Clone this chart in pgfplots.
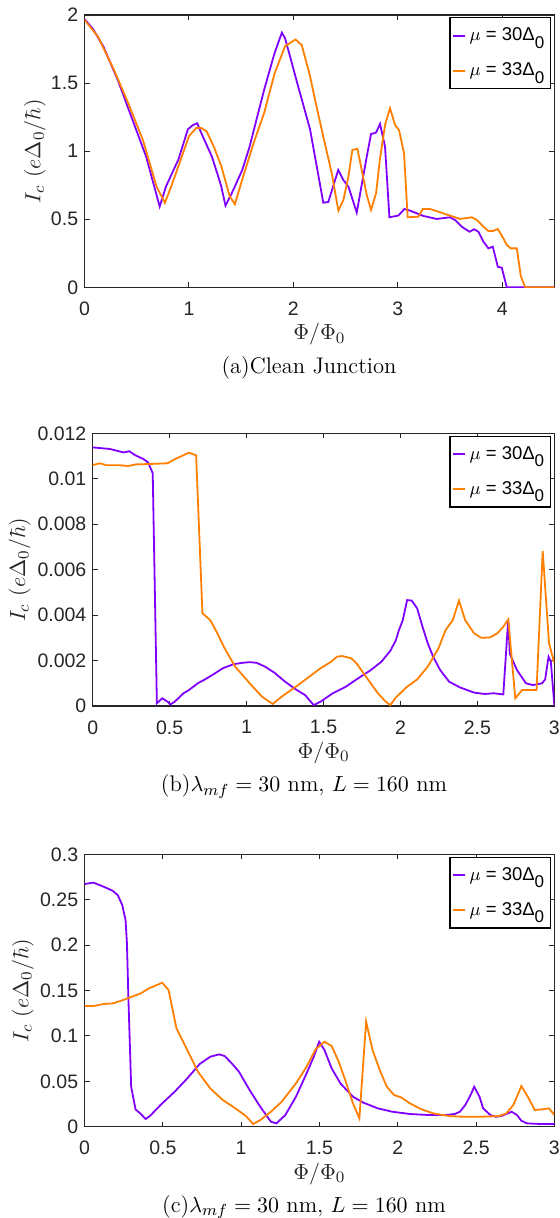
\documentclass[border=0pt]{standalone}
\usepackage{fontspec}
\usepackage{pgfplots}
\pgfplotsset{compat=1.18}
\newfontfamily\hel{Liberation Sans}
\definecolor{cpur}{RGB}{128,0,255}
\definecolor{corg}{RGB}{255,128,0}
\definecolor{axc}{RGB}{38,38,38}
\newcommand{\legfont}{\fontsize{9.25}{11}\hel}
\newcommand{\labfont}{\fontsize{11.3}{13.5}\selectfont}
\newcommand{\subz}{\raisebox{-0.8ex}{\fontsize{8.5}{9}\selectfont 0}}
\pgfplotsset{
  myax/.style={
    scale only axis, anchor=south west,
    axis line style={axc, line width=0.65pt},
    every tick/.style={axc, line width=0.5pt},
    major tick length=2.5pt,
    tick align=inside, tick pos=both,
    ticklabel style={font=\fontsize{9.75}{11}\hel, text=axc},
    xticklabel style={inner sep=0pt, anchor=north, yshift=-7pt},
    yticklabel style={inner sep=0pt, anchor=east, xshift=-3pt},
    scaled ticks=false,
    xlabel style={at={(axis description cs:0.5,0)}, anchor=north, inner sep=0pt, yshift=-17.85pt, font=\labfont, text=axc},
    xlabel={$\Phi/\Phi_0$},
    ylabel={$I_c\ (e\Delta_0/\hbar)$},
    legend style={at={(1,1)}, anchor=north east, xshift=-1.8pt, yshift=-1.15pt, draw=black, line width=0.6pt, fill=white, font=\legfont, inner xsep=1pt, inner ysep=3pt, row sep=5.5pt, cells={anchor=west}},
    legend image code/.code={\draw[##1, line width=0.8pt] (0pt,0pt) -- (6pt,0pt);},
    every axis plot/.append style={line width=0.9pt},
  }
}
\begin{document}
\begin{tikzpicture}
\useasboundingbox (0,0) rectangle (279.5pt,-609pt);
% ---------------- (a)
\begin{axis}[myax, at={(42.25pt,-143.65pt)}, width=234.95pt, height=136.15pt,
  xmin=0, xmax=4.5, ymin=0, ymax=2,
  xtick={0,1,2,3,4}, xticklabels={0,1,2,3,4},
  ytick={0,0.5,1,1.5,2}, yticklabels={0,0.5,1,1.5,2},
  ylabel style={at={(axis description cs:-0.1053,0.5)}, anchor=center, inner sep=0pt, font=\labfont, text=axc}]
\addplot[cpur] coordinates {(0,1.97) (0.079,1.90) (0.18,1.77) (0.32,1.52) (0.45,1.25) (0.59,0.96) (0.72,0.593) (0.78,0.74) (0.9,0.94) (0.99,1.16) (1.035,1.19) (1.08,1.205) (1.12,1.13) (1.22,0.96) (1.27,0.84) (1.31,0.74) (1.35,0.60) (1.41,0.69) (1.51,0.86) (1.58,1.03) (1.72,1.45) (1.82,1.72) (1.89,1.87) (1.92,1.83) (1.96,1.72) (2.03,1.52) (2.16,1.16) (2.287,0.621) (2.335,0.627) (2.43,0.862) (2.479,0.788) (2.527,0.739) (2.559,0.665) (2.607,0.548) (2.703,0.96) (2.744,1.126) (2.792,1.136) (2.83,1.2) (2.878,1.033) (2.92,0.514) (3.006,0.527) (3.063,0.575) (3.118,0.563) (3.245,0.524) (3.373,0.502) (3.5,0.514) (3.549,0.494) (3.613,0.445) (3.686,0.408) (3.731,0.426) (3.772,0.408) (3.82,0.335) (3.868,0.286) (3.91,0.298) (3.958,0.151) (3.996,0.144) (4.044,0) (4.5,0)};
\addlegendentry{$\mu$ = 30Δ\subz}
\addplot[corg] coordinates {(0,1.965) (0.13,1.84) (0.28,1.6) (0.42,1.35) (0.56,1.08) (0.69,0.74) (0.77,0.62) (0.83,0.74) (0.9,0.89) (1.0,1.11) (1.07,1.17) (1.12,1.17) (1.17,1.145) (1.24,1.03) (1.31,0.89) (1.39,0.67) (1.44,0.61) (1.51,0.79) (1.62,1.06) (1.72,1.28) (1.82,1.57) (1.92,1.77) (2.02,1.82) (2.08,1.78) (2.16,1.55) (2.208,1.376) (2.287,1.106) (2.368,0.837) (2.431,0.563) (2.479,0.641) (2.527,0.812) (2.565,1.008) (2.613,1.018) (2.655,0.862) (2.703,0.678) (2.744,0.568) (2.792,0.69) (2.83,0.947) (2.878,1.192) (2.926,1.315) (2.974,1.192) (3.012,1.155) (3.06,0.984) (3.095,0.514) (3.197,0.519) (3.24,0.575) (3.31,0.575) (3.437,0.543) (3.597,0.502) (3.709,0.514) (3.757,0.495) (3.82,0.445) (3.868,0.413) (3.91,0.413) (3.958,0.428) (4.002,0.372) (4.044,0.311) (4.082,0.286) (4.14,0.286) (4.178,0.083) (4.22,0) (4.5,0)};
\addlegendentry{$\mu$ = 33Δ\subz}
\end{axis}
\node[anchor=base, inner sep=0pt, font=\labfont] at (154.5pt,-186.65pt) {(a)Clean Junction};
% ---------------- (b)
\begin{axis}[myax, at={(46.35pt,-353pt)}, width=230.85pt, height=136.35pt,
  xmin=0, xmax=3, ymin=0, ymax=0.012,
  xtick={0,0.5,1,1.5,2,2.5,3}, xticklabels={0,0.5,1,1.5,2,2.5,3},
  ytick={0,0.002,0.004,0.006,0.008,0.01,0.012}, yticklabels={0,0.002,0.004,0.006,0.008,0.01,0.012},
  ylabel style={at={(axis description cs:-0.158,0.5)}, anchor=center, inner sep=0pt, font=\labfont, text=axc}]
\addplot[cpur] coordinates {(0,0.01138) (0.112,0.01131) (0.199,0.01116) (0.238,0.01121) (0.275,0.01104) (0.329,0.01087) (0.361,0.01071) (0.39,0.01024) (0.417,0.00012) (0.452,0.00034) (0.486,0.00019) (0.505,0.00007) (0.533,0.00019) (0.59,0.00056) (0.625,0.0007) (0.683,0.001) (0.73,0.00117) (0.788,0.00141) (0.845,0.00166) (0.915,0.00184) (0.973,0.0019) (1.02,0.00193) (1.066,0.0019) (1.12,0.00173) (1.18,0.00147) (1.25,0.00107) (1.32,0.00073) (1.38,0.00048) (1.436,0.00004) (1.48,0.00019) (1.56,0.00056) (1.645,0.00085) (1.714,0.00117) (1.807,0.00158) (1.876,0.00195) (1.934,0.00243) (1.969,0.00288) (1.99,0.00334) (2.015,0.00378) (2.043,0.00466) (2.073,0.00464) (2.108,0.0043) (2.143,0.00349) (2.177,0.00276) (2.212,0.00217) (2.258,0.00158) (2.316,0.00107) (2.386,0.00082) (2.478,0.00059) (2.548,0.00053) (2.606,0.00056) (2.668,0.00051) (2.70,0.00381) (2.71,0.0023) (2.757,0.00158) (2.815,0.001) (2.86,0.00092) (2.92,0.001) (2.94,0.00117) (2.962,0.00217) (2.977,0.00195) (3.0,0)};
\addlegendentry{$\mu$ = 30Δ\subz}
\addplot[corg] coordinates {(0,0.0106) (0.046,0.01068) (0.093,0.01059) (0.185,0.01059) (0.23,0.01056) (0.278,0.01063) (0.37,0.01065) (0.486,0.01068) (0.533,0.01086) (0.579,0.011) (0.625,0.01115) (0.672,0.01103) (0.713,0.00408) (0.764,0.00378) (0.81,0.0032) (0.857,0.00254) (0.926,0.00173) (1.02,0.001) (1.1,0.00041) (1.17,0.00009) (1.228,0.00041) (1.32,0.00085) (1.413,0.00132) (1.48,0.00166) (1.55,0.00195) (1.587,0.00217) (1.62,0.0022) (1.68,0.0021) (1.714,0.00188) (1.76,0.00144) (1.853,0.00056) (1.904,0.00019) (1.934,0.00004) (1.969,0.00037) (2.038,0.00082) (2.108,0.00117) (2.177,0.00173) (2.247,0.00254) (2.293,0.00334) (2.34,0.00378) (2.38,0.00464) (2.42,0.00378) (2.478,0.0032) (2.525,0.003) (2.583,0.00302) (2.63,0.0032) (2.668,0.00349) (2.7,0.00381) (2.746,0.00034) (2.79,0.0007) (2.884,0.0007) (2.924,0.00682) (2.965,0.00276) (3.0,0.00188)};
\addlegendentry{$\mu$ = 33Δ\subz}
\end{axis}
\node[anchor=base, inner sep=0pt, font=\labfont] at (152pt,-395.85pt) {(b)$\lambda_{mf}=30$ nm, $L=160$ nm};
% ---------------- (c)
\begin{axis}[myax, at={(42.25pt,-563.35pt)}, width=234.95pt, height=136.2pt,
  xmin=0, xmax=3, ymin=0, ymax=0.3,
  xtick={0,0.5,1,1.5,2,2.5,3}, xticklabels={0,0.5,1,1.5,2,2.5,3},
  ytick={0,0.05,0.1,0.15,0.2,0.25,0.3}, yticklabels={0,0.05,0.1,0.15,0.2,0.25,0.3},
  ylabel style={at={(axis description cs:-0.131,0.5)}, anchor=center, inner sep=0pt, font=\labfont, text=axc}]
\addplot[cpur] coordinates {(0,0.2673) (0.057,0.2688) (0.121,0.2644) (0.178,0.26) (0.212,0.2552) (0.241,0.2442) (0.262,0.2277) (0.271,0.202) (0.28,0.143) (0.298,0.044) (0.326,0.019) (0.36,0.014) (0.39,0.0085) (0.417,0.0117) (0.485,0.0239) (0.576,0.0386) (0.656,0.0532) (0.735,0.069) (0.803,0.0771) (0.86,0.0797) (0.895,0.0778) (0.94,0.0698) (0.986,0.0606) (1.054,0.0404) (1.122,0.022) (1.19,0.0055) (1.225,0.0037) (1.282,0.0128) (1.35,0.033) (1.418,0.0588) (1.464,0.0771) (1.498,0.0936) (1.532,0.0845) (1.578,0.0643) (1.634,0.0477) (1.714,0.033) (1.782,0.0264) (1.873,0.0202) (1.965,0.0165) (2.078,0.014) (2.192,0.0129) (2.306,0.0129) (2.363,0.014) (2.397,0.0165) (2.431,0.0239) (2.465,0.0349) (2.488,0.044) (2.522,0.033) (2.545,0.0202) (2.591,0.0129) (2.625,0.011) (2.66,0.0117) (2.693,0.014) (2.727,0.0165) (2.761,0.0129) (2.789,0.0066) (2.825,0.0037) (2.92,0.0029) (3.0,0.0029)};
\addlegendentry{$\mu$ = 30Δ\subz}
\addplot[corg] coordinates {(0,0.1329) (0.057,0.1329) (0.121,0.1351) (0.184,0.1359) (0.246,0.1395) (0.303,0.1432) (0.36,0.1469) (0.412,0.1524) (0.462,0.156) (0.496,0.1586) (0.537,0.1505) (0.587,0.1083) (0.656,0.0845) (0.724,0.0606) (0.803,0.0422) (0.883,0.0294) (0.963,0.0202) (1.031,0.0117) (1.077,0.0029) (1.122,0.0073) (1.19,0.0165) (1.259,0.0275) (1.35,0.0477) (1.418,0.0661) (1.475,0.0852) (1.532,0.0936) (1.578,0.0889) (1.623,0.0716) (1.668,0.0496) (1.714,0.0257) (1.755,0.0092) (1.798,0.1157) (1.839,0.0845) (1.885,0.0624) (1.93,0.0441) (1.976,0.0349) (2.021,0.0323) (2.078,0.0257) (2.147,0.0195) (2.226,0.0147) (2.329,0.0117) (2.42,0.011) (2.534,0.011) (2.647,0.0117) (2.693,0.0147) (2.738,0.0239) (2.789,0.0448) (2.83,0.033) (2.875,0.0184) (2.92,0.0191) (2.966,0.0202) (3.0,0.0129)};
\addlegendentry{$\mu$ = 33Δ\subz}
\end{axis}
\node[anchor=base, inner sep=0pt, font=\labfont] at (152pt,-606pt) {(c)$\lambda_{mf}=30$ nm, $L=160$ nm};
\end{tikzpicture}
\end{document}
